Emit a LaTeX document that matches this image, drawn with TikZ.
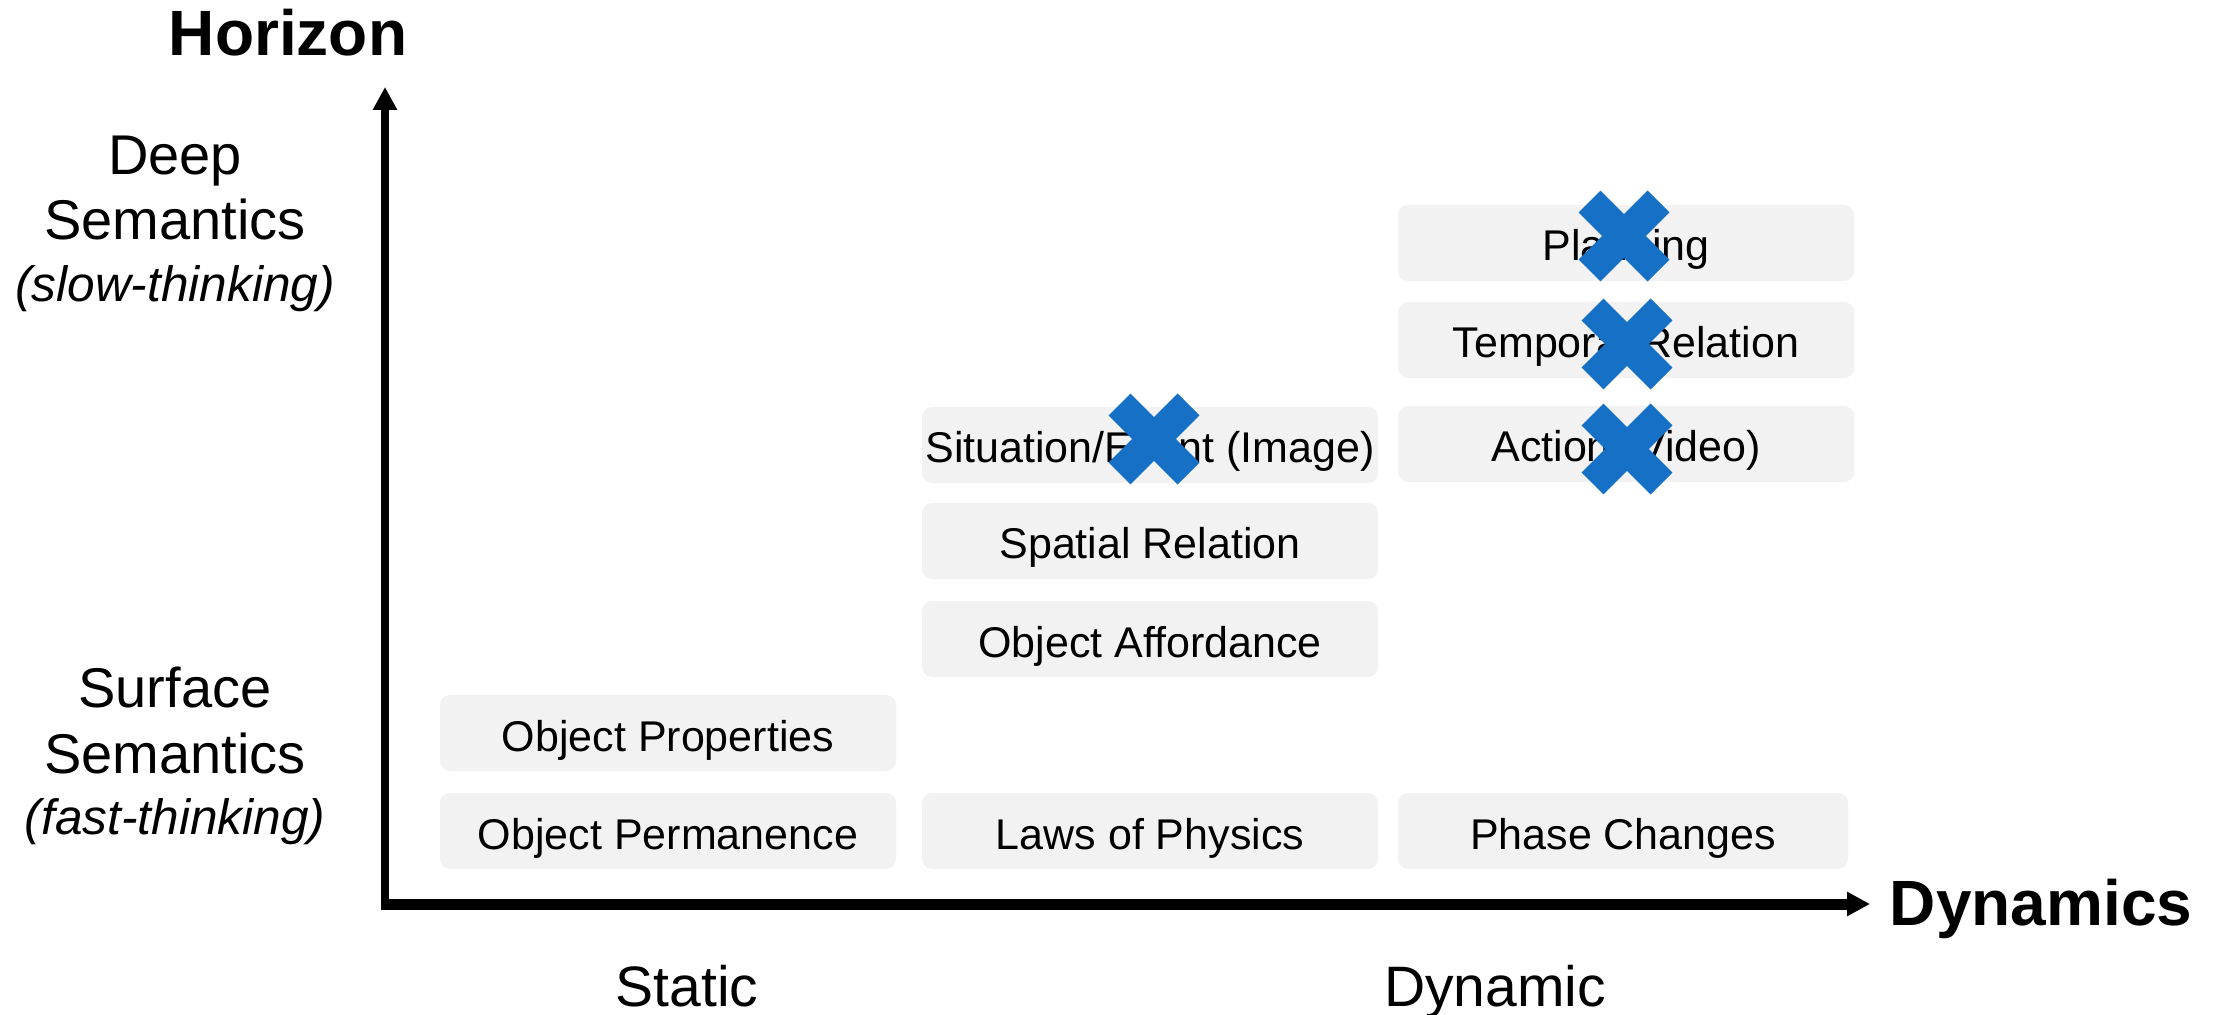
\documentclass[tikz,border=0pt]{standalone}
\usepackage{fontspec}
\setmainfont{Liberation Sans}
\usetikzlibrary{arrows.meta,shapes.misc}
\definecolor{cellgray}{HTML}{F2F2F2}
\definecolor{markblue}{HTML}{1570C6}
\begin{document}
\begin{tikzpicture}[x=0.5pt,y=-0.5pt,
  cell/.style={rectangle, rounded corners=5pt, fill=cellgray, inner sep=0pt,
    minimum width=228pt, minimum height=38pt, text height=18pt, text depth=0pt,
    font=\fontsize{21.5}{25}\selectfont},
  xmark/.style={cross out, draw=markblue, line width=15.5pt, minimum size=34.5pt,
    inner sep=0pt, outer sep=0pt},
  axislabel/.style={font=\fontsize{32}{38}\selectfont\bfseries, anchor=base},
  sidelabel/.style={font=\fontsize{28}{34}\selectfont, anchor=base},
  sidenote/.style={font=\fontsize{24.8}{30}\selectfont\itshape, anchor=base},
  ticklabel/.style={font=\fontsize{28.5}{34}\selectfont, anchor=base},
  axisline/.style={-{Triangle[length=11.5pt,width=11.5pt]}}
]
\useasboundingbox (0,0) rectangle (2216,1015);

% axes
\coordinate (ybase) at (385,909.5);
\coordinate (ytip) at (385,87);
\coordinate (xbase) at (381,904);
\coordinate (xtip) at (1870,904);
\draw[axisline, line width=4pt] (ybase) -- (ytip);
\draw[axisline, line width=5.5pt] (xbase) -- (xtip);

% axis titles
\node[axislabel] (horizon) at (288,56) {Horizon};
\node[axislabel] (dynamics) at (2041,925) {Dynamics};

% vertical scale labels
\node[sidelabel] (deep1) at (175,175) {Deep};
\node[sidelabel] (deep2) at (175,240) {Semantics};
\node[sidenote]  (deep3) at (175,302) {(slow-thinking)};
\node[sidelabel] (surf1) at (175,707) {Surface};
\node[sidelabel] (surf2) at (175,773) {Semantics};
\node[sidenote]  (surf3) at (175,834) {(fast-thinking)};

% horizontal scale labels
\node[ticklabel] (static) at (687,1006) {Static};
\node[ticklabel] (dynamic) at (1495,1006) {Dynamic};

% static column
\node[cell] (props) at (668,733) {Object Properties};
\node[cell] (perm)  at (668,831) {Object Permanence};

% middle column
\node[cell] (situation) at (1150,445) {Situation/Event (Image)};
\node[cell] (spatial)   at (1150,541) {Spatial Relation};
\node[cell] (afford)    at (1150,639) {Object Affordance};
\node[cell] (physics)   at (1150,831) {Laws of Physics};

% dynamic column
\node[cell] (planning) at (1626,243) {Planning};
\node[cell] (temporal) at (1626,340) {Temporal Relation};
\node[cell] (action)   at (1626,444) {Action (Video)};
\node[cell, minimum width=225pt] (phase) at (1623,831) {Phase Changes};

% blue cross marks
\node[xmark] (xplanning)  at (1624,236) {};
\node[xmark] (xtemporal)  at (1627,344) {};
\node[xmark] (xaction)    at (1627,449) {};
\node[xmark] (xsituation) at (1154,439) {};
\end{tikzpicture}
\end{document}
